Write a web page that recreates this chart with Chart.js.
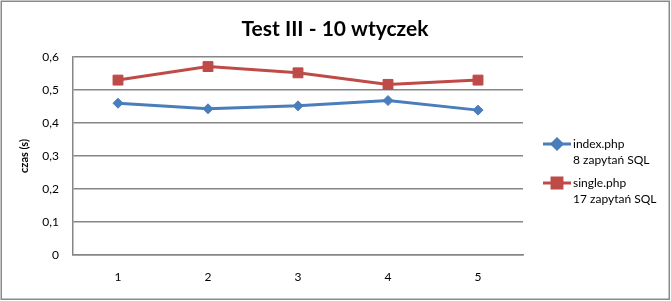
<!DOCTYPE html>
<html><head><meta charset="utf-8">
<script src="https://cdn.jsdelivr.net/npm/chart.js@4"></script>
<style>html,body{margin:0;padding:0;background:#fff;}#wrap{width:671px;height:301px;position:relative;}</style>
</head><body><div id="wrap"><canvas id="c" width="671" height="301"></canvas></div>
<script>
const categories = ['1', '2', '3', '4', '5'];
const indexValues = [0.460, 0.443, 0.452, 0.468, 0.439];
const singleValues = [0.530, 0.571, 0.552, 0.517, 0.530];
const seriesNames = [['index.php', '8 zapytań SQL'], ['single.php', '17 zapytań SQL']];
const chartTitle = 'Test III - 10 wtyczek';
const yTitle = 'czas (s)';

const FONT = 'Lato, "Open Sans", sans-serif';
const GRID = '#868686';

const decorPlugin = {
  id: 'decor',
  afterDraw(chart) {
    const ctx = chart.ctx;
    ctx.save();
    ctx.strokeStyle = '#8a8a8a';
    ctx.lineWidth = 1.5;
    ctx.strokeRect(1.25, 1.25, 668, 298);
    ctx.fillStyle = '#000';
    ctx.font = 'bold 21px ' + FONT;
    ctx.textAlign = 'center';
    ctx.textBaseline = 'middle';
    ctx.fillText(chartTitle, 335, 29);
    const tops = [144, 183];
    chart.data.datasets.forEach((ds, i) => {
      const y = tops[i];
      ctx.strokeStyle = ds.borderColor;
      ctx.lineWidth = ds.borderWidth;
      ctx.beginPath();
      ctx.moveTo(543, y);
      ctx.lineTo(571, y);
      ctx.stroke();
      Chart.helpers.drawPoint(ctx, {
        pointStyle: ds.pointStyle, radius: ds.pointRadius, rotation: 0, borderWidth: 1
      }, 557, y);
      ctx.fillStyle = ds.pointBackgroundColor;
      ctx.fill();
      ctx.fillStyle = '#000';
      ctx.font = '12px ' + FONT;
      ctx.textAlign = 'left';
      ctx.textBaseline = 'middle';
      seriesNames[i].forEach((t, k) => ctx.fillText(t, 573, y + k * 16));
    });
    ctx.restore();
  }
};

new Chart(document.getElementById('c'), {
  type: 'line',
  data: {
    labels: categories,
    datasets: [
      { label: seriesNames[0].join(' '), data: indexValues, borderColor: '#4A7EBB', backgroundColor: '#4A7EBB',
        pointBackgroundColor: '#4A7EBB', pointBorderColor: '#4A7EBB', borderWidth: 3, pointStyle: 'rectRot', pointRadius: 5, pointBorderWidth: 1, tension: 0 },
      { label: seriesNames[1].join(' '), data: singleValues, borderColor: '#BE4B48', backgroundColor: '#BE4B48',
        pointBackgroundColor: '#BE4B48', pointBorderColor: '#BE4B48', borderWidth: 3, pointStyle: 'rect', pointRadius: 7, pointBorderWidth: 1, tension: 0 }
    ]
  },
  options: {
    responsive: false,
    animation: false,
    events: [],
    layout: { padding: { top: 57, right: 148, left: 0, bottom: 0 } },
    plugins: { legend: { display: false }, title: { display: false }, tooltip: { enabled: false } },
    scales: {
      x: {
        offset: true,
        grid: { display: false, drawTicks: false },
        border: { display: true, color: GRID, width: 1.5 },
        ticks: { color: '#000', font: { family: FONT, size: 12 }, padding: 15 },
        afterFit(s) { s.height = 46; }
      },
      y: {
        min: 0, max: 0.6,
        grid: { color: GRID, lineWidth: 1.5, drawTicks: false },
        border: { display: true, color: GRID, width: 1.5 },
        ticks: { stepSize: 0.1, color: '#000', font: { family: FONT, size: 12 }, padding: 14,
          callback: v => (Math.round(v * 10) / 10).toString().replace('.', ',') },
        title: { display: true, text: yTitle, color: '#000', font: { family: FONT, size: 11, weight: 'bold' }, padding: { top: 18, bottom: 0 } },
        afterFit(s) { s.width = 73; }
      }
    }
  },
  plugins: [decorPlugin]
});
</script></body></html>
